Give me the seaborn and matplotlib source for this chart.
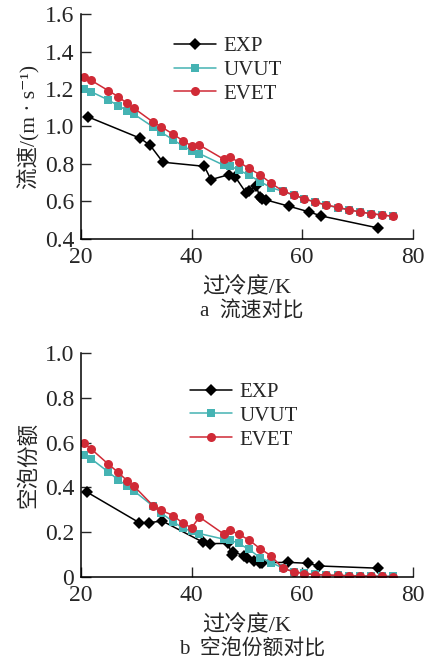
import numpy as np
import pandas as pd
import matplotlib
matplotlib.use("Agg")
import matplotlib.pyplot as plt
import seaborn as sns

# experiment points (subcooling K -> velocity / void fraction)
exp_x_a = [21.3, 30.7, 32.5, 34.8, 42.3, 43.5, 46.8, 47.9, 49.9, 50.3, 51.7, 52.3, 52.8, 53.5, 57.7, 61.3, 63.4, 73.8]
exp_v = [1.051, 0.937, 0.899, 0.809, 0.787, 0.716, 0.743, 0.730, 0.643, 0.653, 0.682, 0.625, 0.612, 0.607, 0.573, 0.543, 0.522, 0.457]

exp_x_b = [21.1, 30.5, 32.3, 34.7, 42.0, 43.3, 46.6, 47.3, 47.5, 49.5, 50.0, 51.3, 52.4, 52.8, 57.5, 61.0, 63.0, 73.8]
exp_void = [0.378, 0.242, 0.242, 0.249, 0.155, 0.148, 0.149, 0.097, 0.112, 0.093, 0.082, 0.072, 0.063, 0.063, 0.064, 0.060, 0.048, 0.038]

# model points, same subcooling grid for both models
model_x = [20.6, 21.8, 24.9, 26.7, 28.3, 29.5, 33.0, 34.5, 36.7, 38.4, 40.0, 41.4, 45.8, 47.0, 48.5,
           50.4, 52.4, 54.4, 56.5, 58.5, 60.4, 62.4, 64.4, 66.5, 68.5, 70.5, 72.4, 74.4, 76.4]
uvut_v = [1.199, 1.186, 1.142, 1.112, 1.085, 1.067, 0.998, 0.969, 0.928, 0.896, 0.871, 0.855, 0.793, 0.788, 0.768,
          0.739, 0.705, 0.673, 0.653, 0.632, 0.612, 0.596, 0.580, 0.564, 0.554, 0.543, 0.534, 0.527, 0.520]
evet_v = [1.263, 1.247, 1.192, 1.160, 1.124, 1.099, 1.024, 0.998, 0.958, 0.924, 0.896, 0.901, 0.825, 0.835, 0.810,
          0.776, 0.741, 0.696, 0.655, 0.634, 0.614, 0.595, 0.580, 0.568, 0.554, 0.543, 0.534, 0.527, 0.520]
uvut_void = [0.543, 0.528, 0.469, 0.434, 0.407, 0.385, 0.316, 0.285, 0.245, 0.218, 0.203, 0.193, 0.168, 0.164, 0.149,
             0.122, 0.085, 0.063, 0.039, 0.022, 0.016, 0.010, 0.008, 0.006, 0.005, 0.004, 0.003, 0.003, 0.002]
evet_void = [0.597, 0.572, 0.504, 0.467, 0.430, 0.407, 0.318, 0.297, 0.273, 0.239, 0.219, 0.267, 0.191, 0.207, 0.190,
             0.164, 0.125, 0.093, 0.037, 0.022, 0.013, 0.009, 0.007, 0.006, 0.004, 0.003, 0.002, 0.001, 0.000]

sns.set_style("ticks")
plt.rcParams['font.family'] = ['Liberation Serif', 'Noto Sans CJK SC', 'DejaVu Serif']
plt.rcParams['font.size'] = 14

fig = plt.figure(figsize=(4.27, 6.64), dpi=100)
ax1 = fig.add_axes([0.19, 0.6405, 0.7765, 0.338])
ax2 = fig.add_axes([0.19, 0.1315, 0.7765, 0.3365])

black = "black"
teal = "#45b3b3"
red = "#d02a36"


def draw(ax, ex, ey, uy, vy):
    sns.lineplot(x=ex, y=ey, ax=ax, color=black, marker="D", markersize=6.5, lw=1.1,
                 markeredgewidth=0, label="EXP", sort=False, estimator=None)
    sns.lineplot(x=model_x, y=uy, ax=ax, color=teal, marker="s", markersize=6, lw=1.1,
                 markeredgewidth=0, label="UVUT", sort=False, estimator=None)
    sns.lineplot(x=model_x, y=vy, ax=ax, color=red, marker="o", markersize=6.5, lw=1.1,
                 markeredgewidth=0, label="EVET", sort=False, estimator=None)
    ax.set_xlim(20, 80)
    ax.set_xticks([20, 40, 60, 80])
    ax.tick_params(direction="in", length=7, width=1, labelsize=17)
    ax.tick_params(axis="y", pad=5)
    ax.tick_params(axis="x", pad=6)
    sns.despine(ax=ax)
    for s in ["left", "bottom"]:
        ax.spines[s].set_linewidth(1.1)
        ax.spines[s].set_color("black")
    ax.set_xlabel("过冷度/K", fontsize=16, labelpad=7)


draw(ax1, exp_x_a, exp_v, uvut_v, evet_v)
ax1.set_ylim(0.4, 1.6)
ax1.set_yticks([0.4, 0.6, 0.8, 1.0, 1.2, 1.4, 1.6])
ax1.set_yticklabels(["0.4", "0.6", "0.8", "1.0", "1.2", "1.4", "1.6"])
ax1.set_ylabel("流速/(m · s⁻¹)", fontsize=15.5, labelpad=4)
ax1.legend(loc="upper left", bbox_to_anchor=(0.25, 0.947), frameon=False, fontsize=15,
           handlelength=2.0, handletextpad=0.35, labelspacing=0.2, borderpad=0)

draw(ax2, exp_x_b, exp_void, uvut_void, evet_void)
ax2.set_ylim(0, 1.0)
ax2.set_yticks([0, 0.2, 0.4, 0.6, 0.8, 1.0])
ax2.set_yticklabels(["0", "0.2", "0.4", "0.6", "0.8", "1.0"])
ax2.set_ylabel("空泡份额", fontsize=15.5, labelpad=4)
ax2.legend(loc="upper left", bbox_to_anchor=(0.298, 0.916), frameon=False, fontsize=15,
           handlelength=2.0, handletextpad=0.35, labelspacing=0.2, borderpad=0)

fig.text(0.59, 1 - 312 / 664, "a  流速对比", ha="center", va="center", fontsize=15)
fig.text(0.59, 1 - 650 / 664, "b  空泡份额对比", ha="center", va="center", fontsize=15)

fig.savefig("out.png", dpi=100)
